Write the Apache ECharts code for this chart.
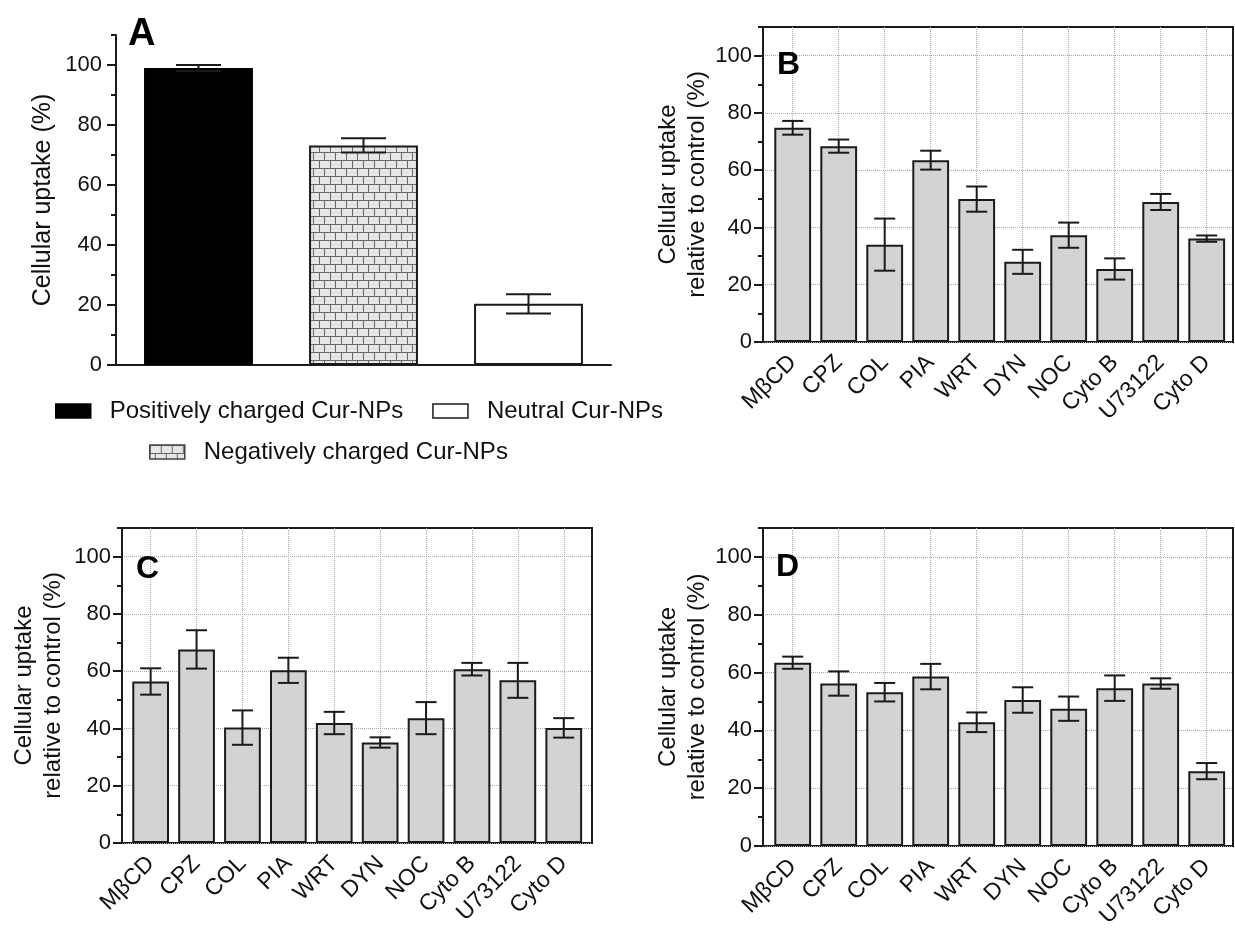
<!DOCTYPE html>
<html>
<head>
<meta charset="utf-8">
<script src="https://cdn.jsdelivr.net/npm/echarts@6/dist/echarts.min.js"></script>
<style>
html,body{margin:0;padding:0;background:#fff;}
#main{width:1235px;height:929px;}
</style>
</head>
<body>
<div id="main"></div>
<script>
// panel A
var aNames = ['Positively charged Cur-NPs', 'Negatively charged Cur-NPs', 'Neutral Cur-NPs'];
var aMean = [99.0, 73.2, 20.4];
var aErr = [1.0, 2.4, 3.2];

// panels B, C, D (same inhibitors)
var inhibitors = ['MβCD', 'CPZ', 'COL', 'PIA', 'WRT', 'DYN', 'NOC', 'Cyto B', 'U73122', 'Cyto D'];
var bMean = [74.8, 68.4, 34.0, 63.5, 49.9, 28.0, 37.3, 25.5, 48.9, 36.1];
var bErr  = [2.4, 2.3, 9.1, 3.3, 4.4, 4.2, 4.4, 3.7, 2.8, 1.1];
var cMean = [56.4, 67.6, 40.3, 60.3, 41.9, 35.1, 43.6, 60.7, 56.8, 40.2];
var cErr  = [4.6, 6.7, 6.0, 4.4, 3.9, 1.8, 5.6, 2.2, 6.1, 3.4];
var dMean = [63.4, 56.2, 53.2, 58.6, 42.8, 50.5, 47.5, 54.6, 56.2, 25.9];
var dErr  = [2.1, 4.2, 3.2, 4.4, 3.4, 4.4, 4.2, 4.4, 1.8, 2.8];

var majorTicks = [0, 20, 40, 60, 80, 100];
var minorTicks = [10, 30, 50, 70, 90, 110];

var FONT = '"Liberation Sans", Arial, sans-serif';
var INK = '#1a1a1a';

// brick fill for the negatively charged bar
function brick(){
	var c = document.createElement('canvas');
	c.width = 22; c.height = 16;
	var g = c.getContext('2d');
	g.fillStyle = '#e6e6e6';
	g.fillRect(0, 0, 22, 16);
	g.strokeStyle = '#6a6a6a';
	g.lineWidth = 1;
	g.beginPath();
	g.moveTo(0, 0.5); g.lineTo(22, 0.5);
	g.moveTo(0, 8.5); g.lineTo(22, 8.5);
	g.moveTo(0.5, 0); g.lineTo(0.5, 8);
	g.moveTo(11.5, 0); g.lineTo(11.5, 8);
	g.moveTo(5.5, 8); g.lineTo(5.5, 16);
	g.moveTo(16.5, 8); g.lineTo(16.5, 16);
	g.stroke();
	return c;
}
var brickFill = {image: brick(), repeat: 'repeat'};

function errBar(capW){
	return function(params, api){
		var x = api.value(0);
		var p1 = api.coord([x, api.value(2)]);
		var p2 = api.coord([x, api.value(1)]);
		var st = {stroke: INK, lineWidth: 2};
		return {type: 'group', children: [
			{type: 'line', shape: {x1: p1[0], y1: p1[1], x2: p2[0], y2: p2[1]}, style: st},
			{type: 'line', shape: {x1: p1[0] - capW / 2, y1: p1[1], x2: p1[0] + capW / 2, y2: p1[1]}, style: st},
			{type: 'line', shape: {x1: p2[0] - capW / 2, y1: p2[1], x2: p2[0] + capW / 2, y2: p2[1]}, style: st}
		]};
	};
}

function errData(mean, err){
	return mean.map(function(m, i){ return [i, m - err[i], m + err[i]]; });
}

function mainY(gi, name, gap, fs, labMargin, grid){
	return {
		gridIndex: gi, type: 'value', position: 'left', min: 0, max: 110, interval: 20,
		name: name, nameLocation: 'middle', nameGap: gap,
		nameTextStyle: {fontSize: fs, fontFamily: FONT, color: '#111', lineHeight: 29},
		axisLine: {show: true, lineStyle: {color: INK, width: 2}},
		axisTick: {show: true, customValues: majorTicks, length: 9, lineStyle: {color: INK, width: 2}},
		axisLabel: {customValues: majorTicks, margin: labMargin, fontSize: 22, fontFamily: FONT, color: '#111'},
		splitLine: {show: grid, lineStyle: {type: 'dotted', color: '#aaaaaa', width: 1}}
	};
}
function minorY(gi){
	return {
		gridIndex: gi, type: 'value', position: 'left', min: 0, max: 110,
		axisLine: {show: false}, axisLabel: {show: false}, splitLine: {show: false},
		axisTick: {show: true, customValues: minorTicks, length: 5, lineStyle: {color: INK, width: 2}}
	};
}

var option = {
	animation: false,
	backgroundColor: '#fff',
	title: [], grid: [], xAxis: [], yAxis: [], series: [],
	legend: [
		{
			left: 55, top: 399, padding: 0, itemWidth: 35, itemHeight: 14, itemGap: 29,
			icon: 'rect', selectedMode: false,
			textStyle: {fontSize: 24, fontFamily: FONT, color: '#111', padding: [0, 0, 0, 14]},
			data: [
				{name: aNames[0], itemStyle: {color: '#000', borderColor: '#000', borderWidth: 1.5}},
				{name: aNames[2], itemStyle: {color: '#fff', borderColor: INK, borderWidth: 1.5}}
			]
		},
		{
			left: 149, top: 440, padding: 0, itemWidth: 35, itemHeight: 14,
			icon: 'rect', selectedMode: false,
			textStyle: {fontSize: 24, fontFamily: FONT, color: '#111', padding: [0, 0, 0, 14]},
			data: [
				{name: aNames[1], itemStyle: {color: brickFill, borderColor: '#444', borderWidth: 1.5}}
			]
		}
	]
};

// ---- panel A ----
option.grid.push({left: 116, top: 35, width: 495, height: 330, outerBoundsMode: 'none'});
option.xAxis.push({
	gridIndex: 0, type: 'category', data: aNames,
	axisLine: {show: true, lineStyle: {color: INK, width: 2}},
	axisTick: {alignWithLabel: true, length: 9, lineStyle: {color: INK, width: 2}},
	axisLabel: {show: false}
});
option.yAxis.push(mainY(0, 'Cellular uptake (%)', 58, 25, 14, false));
option.yAxis.push(minorY(0));
var aFill = ['#000', brickFill, '#fff'];
aNames.forEach(function(n, i){
	var d = aNames.map(function(x, j){ return j === i ? aMean[i] : '-'; });
	option.series.push({
		type: 'bar', name: n, xAxisIndex: 0, yAxisIndex: 0, data: d,
		barGap: '-100%', barCategoryGap: '34%', silent: true,
		itemStyle: {color: aFill[i], borderColor: i === 0 ? '#000' : INK, borderWidth: 2}
	});
});
option.series.push({
	type: 'custom', xAxisIndex: 0, yAxisIndex: 0, z: 5, silent: true,
	renderItem: errBar(45), data: errData(aMean, aErr)
});
option.title.push({text: 'A', left: 128, top: 16, padding: 0,
	textStyle: {fontSize: 38, fontWeight: 'bold', fontFamily: FONT, color: '#000'}});

// ---- panels B, C, D ----
function addPanel(frame, bandLeft, bandW, letter, letterPos, mean, err, gap){
	var gi = option.grid.length, xi = option.xAxis.length, yi = option.yAxis.length;
	option.grid.push({left: frame[0], top: frame[1], width: frame[2], height: frame[3], show: true,
		borderColor: INK, borderWidth: 2, backgroundColor: 'transparent', outerBoundsMode: 'none'});
	option.grid.push({left: bandLeft, top: frame[1], width: bandW, height: frame[3], outerBoundsMode: 'none'});
	option.xAxis.push({gridIndex: gi, type: 'value', show: false, min: 0, max: 1});
	option.xAxis.push({
		gridIndex: gi + 1, type: 'category', data: inhibitors,
		axisLine: {show: false},
		axisTick: {alignWithLabel: true, length: 8, lineStyle: {color: INK, width: 2}},
		axisLabel: {interval: 0, rotate: 45, margin: 17, fontSize: 23, fontFamily: FONT, color: '#111'},
		splitLine: {show: true, alignWithLabel: true, interval: 0, lineStyle: {type: 'dotted', color: '#aaaaaa', width: 1}}
	});
	option.yAxis.push(mainY(gi, 'Cellular uptake\nrelative to control (%)', gap, 24, 11, true));
	option.yAxis.push(minorY(gi));
	option.yAxis.push({gridIndex: gi + 1, type: 'value', min: 0, max: 110, show: false});
	option.series.push({
		type: 'bar', xAxisIndex: xi + 1, yAxisIndex: yi + 2, data: mean,
		barCategoryGap: '20%', silent: true,
		itemStyle: {color: '#d3d3d3', borderColor: INK, borderWidth: 2}
	});
	option.series.push({
		type: 'custom', xAxisIndex: xi + 1, yAxisIndex: yi + 2, z: 5, silent: true,
		renderItem: errBar(21), data: errData(mean, err)
	});
	option.title.push({text: letter, left: letterPos[0], top: letterPos[1], padding: 0,
		textStyle: {fontSize: 32, fontWeight: 'bold', fontFamily: FONT, color: '#000'}});
}

addPanel([763, 27, 470, 315], 769.7, 460, 'B', [777, 49], bMean, bErr, 48);
addPanel([122, 528, 470, 315], 127.7, 459, 'C', [136, 553], cMean, cErr, 54);
addPanel([763, 528, 470, 318], 769.7, 460, 'D', [776, 551], dMean, dErr, 48);

var chart = echarts.init(document.getElementById('main'), null, {renderer: 'canvas'});
chart.setOption(option);
</script>
</body>
</html>
